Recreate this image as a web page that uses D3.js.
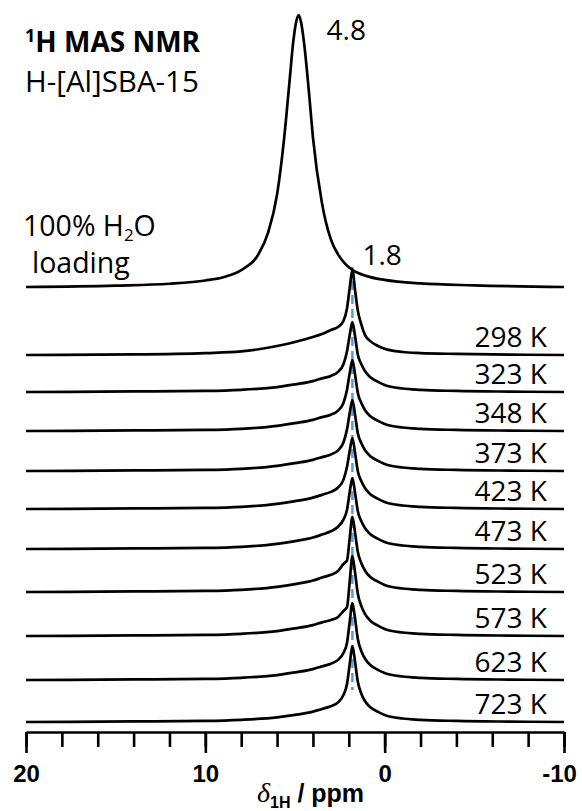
<!DOCTYPE html>
<html>
<head>
<meta charset="utf-8">
<script src="https://cdn.jsdelivr.net/npm/d3@7"></script>
<style>
  body { margin: 0; background: #fff; }
  svg { display: block; }
</style>
</head>
<body>
<svg id="chart" width="582" height="811"></svg>
<script>
// ---- Data -------------------------------------------------------------
// Chemical shift grid (ppm) for the temperature series
const shiftGrid = [20, 14, 10, 8, 6, 5, 4, 3.5, 3, 2.6, 2.3, 2.1, 1.95, 1.8, 1.65, 1.5, 1.3, 1.1, 0.8, 0.4, 0, -1, -2, -4, -7, -10];

// Water-loaded sample: shift grid and intensity (% of its maximum)
const waterShift = [20, 15, 12, 10, 9, 8, 7, 6.5, 6, 5.6, 5.3, 5.1, 4.95, 4.8, 4.65, 4.5, 4.2, 4.0, 3.5, 3.0, 2.6, 2.2, 1.8, 1.0, 0, -2, -5, -10];
const waterIntensity = [0, 0.5, 1.2, 2.4, 3.6, 6.2, 12.5, 20, 34, 55, 76, 90, 97, 100, 97, 90, 70, 55, 31, 17.5, 12, 8.5, 6.3, 4, 2.6, 1.3, 0.6, 0];

// Dehydrated sample after treatment at each temperature (same intensity units)
const temperatures = [298, 323, 348, 373, 423, 473, 523, 573, 623, 723];
const int298 = [0, 0.2, 0.7, 1.3, 3.3, 4.8, 6.6, 7.7, 9.2, 10.3, 12.5, 17.2, 24.6, 31.3, 23.8, 16.4, 11.2, 7.4, 5.1, 3.4, 2.3, 1.1, 0.7, 0.4, 0.15, 0];
const int323 = [0, 0.2, 0.4, 0.8, 1.8, 2.8, 4.0, 5.0, 5.9, 7.4, 10.2, 15.0, 20.9, 25.7, 20.5, 13.9, 10.2, 7.7, 5.4, 3.8, 2.6, 1.3, 0.8, 0.4, 0.15, 0];
const int348 = [0, 0.2, 0.4, 0.8, 1.9, 2.9, 4.1, 5.1, 6.0, 7.5, 10.3, 15.2, 21.2, 26.1, 20.7, 14.1, 10.3, 7.7, 5.4, 3.8, 2.6, 1.3, 0.8, 0.4, 0.15, 0];
const int373 = [0, 0.2, 0.4, 0.8, 1.9, 2.9, 4.1, 5.1, 6.1, 7.6, 10.5, 15.3, 21.3, 26.1, 20.6, 14.0, 10.2, 7.7, 5.4, 3.8, 2.6, 1.3, 0.8, 0.4, 0.15, 0];
const int423 = [0, 0.2, 0.4, 0.8, 1.9, 2.9, 4.2, 5.2, 6.3, 7.9, 10.7, 15.5, 21.3, 26.1, 20.6, 14.0, 10.2, 7.7, 5.4, 3.8, 2.6, 1.3, 0.8, 0.4, 0.15, 0];
const int473 = [0, 0.2, 0.4, 0.8, 1.9, 2.9, 4.2, 5.3, 6.5, 8.2, 10.8, 14.4, 20.9, 26.1, 20.6, 14.0, 10.2, 7.7, 5.4, 3.8, 2.6, 1.3, 0.8, 0.4, 0.15, 0];
const int523 = [0, 0.2, 0.4, 0.8, 1.9, 2.9, 4.2, 5.3, 6.3, 7.7, 10.3, 11.6, 19.8, 27.6, 21.8, 14.8, 10.6, 7.9, 5.5, 3.9, 2.6, 1.3, 0.8, 0.4, 0.15, 0];
const int573 = [0, 0.2, 0.4, 0.8, 1.8, 2.8, 4.0, 5.0, 5.9, 7.0, 9.2, 10.6, 20.0, 29.4, 23.3, 15.6, 11.0, 8.1, 5.6, 3.9, 2.6, 1.3, 0.8, 0.4, 0.15, 0];
const int623 = [0, 0.2, 0.4, 0.8, 1.8, 2.8, 4.0, 5.0, 6.0, 7.4, 9.9, 13.7, 21.3, 28.3, 22.5, 15.2, 10.6, 7.9, 5.5, 3.8, 2.6, 1.3, 0.8, 0.4, 0.15, 0];
const int723 = [0, 0.2, 0.4, 0.8, 1.7, 2.6, 3.8, 4.8, 5.8, 7.2, 9.9, 14.0, 21.2, 27.9, 22.1, 14.9, 10.4, 7.7, 5.4, 3.8, 2.6, 1.3, 0.8, 0.4, 0.15, 0];
const tempIntensities = [int298, int323, int348, int373, int423, int473, int523, int573, int623, int723];

// Peak positions annotated on the spectra (ppm)
const waterPeak = 4.8;
const silanolPeak = 1.8;

// Axis ticks (ppm)
const minorTicks = d3.range(-10, 21, 2);
const majorTicks = [20, 10, 0, -10];

// ---- Layout -----------------------------------------------------------
const waterBase = 287;
const tempBases = [355, 392, 431, 471, 509, 549, 592, 636, 680, 722];
const axisY = 732;
const labelFont = "'Open Sans', 'Noto Sans', sans-serif";
const axisFont = "'Liberation Sans', Arial, sans-serif";

const svg = d3.select('#chart');
const x = d3.scaleLinear().domain([20, -10]).range([26, 564]);
const y = d3.scaleLinear().domain([0, 100]).range([0, 272]);

const lineAt = base => d3.line()
  .x(d => x(d[0]))
  .y(d => base - y(d[1]))
  .curve(d3.curveMonotoneX);

// Dashed guide through the silanol resonance
svg.append('line')
  .attr('x1', x(silanolPeak)).attr('x2', x(silanolPeak))
  .attr('y1', 267).attr('y2', 690)
  .attr('stroke', '#5b9bd5')
  .attr('stroke-width', 2.5)
  .attr('stroke-dasharray', '9,5');

// Spectra
const traces = svg.append('g')
  .attr('fill', 'none')
  .attr('stroke', '#000')
  .attr('stroke-width', 2.7)
  .attr('stroke-linejoin', 'round');

traces.append('path')
  .attr('d', lineAt(waterBase)(d3.zip(waterShift, waterIntensity)));

tempIntensities.forEach((vals, i) => {
  traces.append('path')
    .attr('d', lineAt(tempBases[i])(d3.zip(shiftGrid, vals)));
});

// Temperature labels
svg.append('g')
  .attr('font-family', labelFont)
  .attr('font-size', 28)
  .attr('text-anchor', 'end')
  .selectAll('text')
  .data(temperatures)
  .join('text')
  .attr('x', 547)
  .attr('y', (d, i) => tempBases[i] - 8)
  .text(d => `${d} K`);

// Peak annotations
svg.append('text')
  .attr('x', x(waterPeak) + 28).attr('y', 40)
  .attr('font-family', labelFont).attr('font-size', 28)
  .text(waterPeak.toFixed(1));
svg.append('text')
  .attr('x', x(silanolPeak) + 10).attr('y', 265)
  .attr('font-family', labelFont).attr('font-size', 28)
  .text(silanolPeak.toFixed(1));

// Title block
const t1 = svg.append('text')
  .attr('x', 25).attr('y', 52)
  .attr('font-family', labelFont).attr('font-size', 28).attr('font-weight', 'bold');
t1.append('tspan').attr('font-size', 18).attr('dy', -10).text('1');
t1.append('tspan').attr('dy', 10).text('H MAS NMR');

svg.append('text')
  .attr('x', 25).attr('y', 92)
  .attr('font-family', labelFont).attr('font-size', 29.5)
  .text('H-[Al]SBA-15');

const t3 = svg.append('text')
  .attr('x', 23).attr('y', 236)
  .attr('font-family', labelFont).attr('font-size', 28.5);
t3.append('tspan').text('100% H');
t3.append('tspan').attr('font-size', 17).attr('dy', 5).text('2');
t3.append('tspan').attr('dy', -5).text('O');

svg.append('text')
  .attr('x', 32).attr('y', 273)
  .attr('font-family', labelFont).attr('font-size', 28.5)
  .text('loading');

// Axis
const minorAxis = d3.axisBottom(x)
  .tickValues(minorTicks)
  .tickSize(15)
  .tickSizeOuter(0)
  .tickFormat('');
const majorAxis = d3.axisBottom(x)
  .tickValues(majorTicks)
  .tickSize(21)
  .tickSizeOuter(0)
  .tickPadding(12)
  .tickFormat(d => String(d));

const gMinor = svg.append('g')
  .attr('transform', `translate(0,${axisY})`)
  .call(minorAxis);
gMinor.select('.domain').attr('stroke-width', 2.6).attr('stroke', '#000');
gMinor.selectAll('.tick line').attr('stroke-width', 2.6).attr('stroke', '#000');

const gMajor = svg.append('g')
  .attr('transform', `translate(0,${axisY})`)
  .call(majorAxis);
gMajor.select('.domain').remove();
gMajor.selectAll('.tick line').attr('stroke-width', 2.6).attr('stroke', '#000');
gMajor.selectAll('.tick text')
  .attr('font-family', axisFont)
  .attr('font-size', 24)
  .attr('font-weight', 'bold')
  .attr('fill', '#000')
  .attr('dx', d => (d < 0 ? -5 : 0));

// Axis title: δ(1H) / ppm
const xt = svg.append('text')
  .attr('x', 257).attr('y', 802)
  .attr('font-family', axisFont).attr('font-size', 25).attr('font-weight', 'bold');
xt.append('tspan')
  .attr('font-family', "'Liberation Serif', 'Times New Roman', serif")
  .attr('font-style', 'italic').attr('font-weight', 'normal').attr('font-size', 28)
  .text('δ');
xt.append('tspan').attr('font-size', 16).attr('dy', 6).text('1H');
xt.append('tspan').attr('dy', -6).text(' / ppm');
</script>
</body>
</html>
